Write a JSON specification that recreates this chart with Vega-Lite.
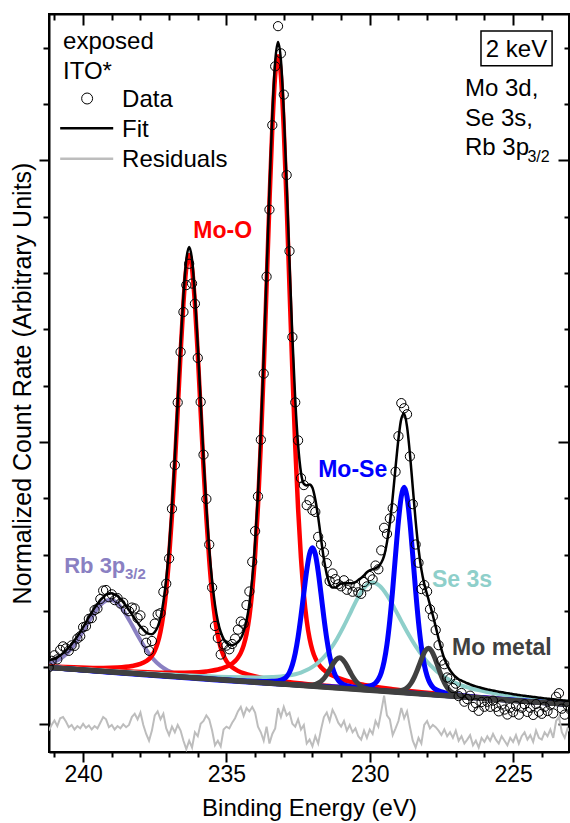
{
"$schema": "https://vega.github.io/schema/vega-lite/v6.json",
"width": 520, "height": 738,
"autosize": "none",
"padding": {"left": 49, "top": 14, "right": 1, "bottom": 71},
"background": "white",
"data": {"values": [{"k": 1}]},
"config": {
 "font": "Liberation Sans",
 "view": {"stroke": "black", "strokeWidth": 2},
 "axis": {"grid": false, "domainColor": "black", "domainWidth": 2, "tickColor": "black", "tickWidth": 2, "labelColor": "black", "titleColor": "black", "labelFont": "Liberation Sans", "titleFont": "Liberation Sans", "titleFontWeight": "normal"}
},
"datasets": {
"pts": [
{"e":241.2,"d":1.002,"f":1.122,"r":-0.12},{"e":241.1,"d":1.119,"f":1.139,"r":-0.02},{"e":241.0,"d":1.217,"f":1.157,"r":0.06},{"e":240.9,"d":1.144,"f":1.184,"r":-0.04},{"e":240.8,"d":1.312,"f":1.212,"r":0.10},{"e":240.7,"d":1.375,"f":1.255,"r":0.12},{"e":240.6,"d":1.339,"f":1.299,"r":0.04},{"e":240.5,"d":1.296,"f":1.356,"r":-0.06},{"e":240.4,"d":1.393,"f":1.413,"r":-0.02},{"e":240.3,"d":1.383,"f":1.483,"r":-0.10},
{"e":240.2,"d":1.513,"f":1.553,"r":-0.04},{"e":240.1,"d":1.554,"f":1.634,"r":-0.08},{"e":240.0,"d":1.715,"f":1.715,"r":0.0},{"e":239.9,"d":1.734,"f":1.804,"r":-0.07},{"e":239.8,"d":1.863,"f":1.893,"r":-0.03},{"e":239.7,"d":1.876,"f":1.976,"r":-0.10},{"e":239.6,"d":2.019,"f":2.059,"r":-0.04},{"e":239.5,"d":2.047,"f":2.127,"r":-0.08},{"e":239.4,"d":2.215,"f":2.195,"r":0.02},{"e":239.3,"d":2.365,"f":2.245,"r":0.12},
{"e":239.2,"d":2.375,"f":2.295,"r":0.08},{"e":239.1,"d":2.247,"f":2.307,"r":-0.06},{"e":239.0,"d":2.299,"f":2.319,"r":-0.02},{"e":238.9,"d":2.196,"f":2.296,"r":-0.10},{"e":238.8,"d":2.232,"f":2.272,"r":-0.04},{"e":238.7,"d":2.136,"f":2.216,"r":-0.08},{"e":238.6,"d":2.150,"f":2.160,"r":-0.01},{"e":238.5,"d":2.030,"f":2.090,"r":-0.06},{"e":238.4,"d":1.999,"f":2.019,"r":-0.02},{"e":238.3,"d":2.064,"f":1.944,"r":0.12},
{"e":238.2,"d":2.048,"f":1.868,"r":0.18},{"e":238.1,"d":1.877,"f":1.797,"r":0.08},{"e":238.0,"d":1.925,"f":1.725,"r":0.20},{"e":237.9,"d":1.652,"f":1.672,"r":-0.02},{"e":237.8,"d":1.439,"f":1.619,"r":-0.18},{"e":237.7,"d":1.297,"f":1.597,"r":-0.30},{"e":237.6,"d":1.471,"f":1.591,"r":-0.12},{"e":237.5,"d":1.779,"f":1.629,"r":0.15},{"e":237.4,"d":1.941,"f":1.721,"r":0.22},{"e":237.3,"d":1.964,"f":1.884,"r":0.08},
{"e":237.2,"d":2.343,"f":2.163,"r":0.18},{"e":237.1,"d":2.487,"f":2.567,"r":-0.08},{"e":237.0,"d":2.935,"f":3.135,"r":-0.20},{"e":236.9,"d":3.817,"f":3.867,"r":-0.05},{"e":236.8,"d":4.593,"f":4.743,"r":-0.15},{"e":236.7,"d":5.704,"f":5.724,"r":-0.02},{"e":236.6,"d":6.601,"f":6.721,"r":-0.12},{"e":236.5,"d":7.31,"f":7.61,"r":-0.30},{"e":236.4,"d":7.788,"f":8.238,"r":-0.45},{"e":236.3,"d":8.166,"f":8.466,"r":-0.30},
{"e":236.2,"d":7.815,"f":8.235,"r":-0.42},{"e":236.1,"d":7.457,"f":7.607,"r":-0.15},{"e":236.0,"d":6.495,"f":6.715,"r":-0.22},{"e":235.9,"d":5.714,"f":5.714,"r":0.0},{"e":235.8,"d":4.778,"f":4.728,"r":0.05},{"e":235.7,"d":3.991,"f":3.841,"r":0.15},{"e":235.6,"d":3.182,"f":3.102,"r":0.08},{"e":235.5,"d":2.42,"f":2.54,"r":-0.12},{"e":235.4,"d":1.737,"f":2.117,"r":-0.38},{"e":235.3,"d":1.523,"f":1.823,"r":-0.30},
{"e":235.2,"d":1.23,"f":1.63,"r":-0.40},{"e":235.1,"d":1.409,"f":1.509,"r":-0.10},{"e":235.0,"d":1.388,"f":1.438,"r":-0.05},{"e":234.9,"d":1.323,"f":1.403,"r":-0.08},{"e":234.8,"d":1.417,"f":1.397,"r":0.02},{"e":234.7,"d":1.513,"f":1.413,"r":0.10},{"e":234.6,"d":1.672,"f":1.452,"r":0.22},{"e":234.5,"d":1.815,"f":1.515,"r":0.30},{"e":234.4,"d":1.777,"f":1.637,"r":0.14},{"e":234.3,"d":2.108,"f":1.828,"r":0.28},
{"e":234.2,"d":2.349,"f":2.129,"r":0.22},{"e":234.1,"d":2.876,"f":2.576,"r":0.30},{"e":234.0,"d":3.421,"f":3.221,"r":0.20},{"e":233.9,"d":4.037,"f":4.087,"r":-0.05},{"e":233.8,"d":5.043,"f":5.193,"r":-0.15},{"e":233.7,"d":6.216,"f":6.516,"r":-0.30},{"e":233.6,"d":7.938,"f":7.988,"r":-0.05},{"e":233.5,"d":9.128,"f":9.478,"r":-0.35},{"e":233.4,"d":10.627,"f":10.807,"r":-0.18},{"e":233.3,"d":11.671,"f":11.751,"r":-0.08},
{"e":233.2,"d":12.384,"f":12.104,"r":0.28},{"e":233.1,"d":11.901,"f":11.781,"r":0.12},{"e":233.0,"d":11.169,"f":10.869,"r":0.30},{"e":232.9,"d":9.741,"f":9.591,"r":0.15},{"e":232.8,"d":8.391,"f":8.191,"r":0.20},{"e":232.7,"d":6.864,"f":6.864,"r":0.0},{"e":232.6,"d":5.706,"f":5.756,"r":-0.05},{"e":232.5,"d":5.031,"f":4.951,"r":0.08},{"e":232.4,"d":4.361,"f":4.461,"r":-0.10},{"e":232.3,"d":4.238,"f":4.258,"r":-0.02},
{"e":232.2,"d":3.881,"f":4.231,"r":-0.35},{"e":232.1,"d":3.97,"f":4.25,"r":-0.28},{"e":232.0,"d":3.791,"f":4.191,"r":-0.40},{"e":231.9,"d":3.761,"f":3.981,"r":-0.22},{"e":231.8,"d":3.319,"f":3.669,"r":-0.35},{"e":231.7,"d":3.184,"f":3.284,"r":-0.10},{"e":231.6,"d":3.043,"f":2.923,"r":0.12},{"e":231.5,"d":2.852,"f":2.652,"r":0.20},{"e":231.4,"d":2.532,"f":2.482,"r":0.05},{"e":231.3,"d":2.669,"f":2.419,"r":0.25},
{"e":231.2,"d":2.569,"f":2.419,"r":0.15},{"e":231.1,"d":2.477,"f":2.457,"r":0.02},{"e":231.0,"d":2.441,"f":2.491,"r":-0.05},{"e":230.9,"d":2.548,"f":2.498,"r":0.05},{"e":230.8,"d":2.38,"f":2.5,"r":-0.12},{"e":230.7,"d":2.474,"f":2.494,"r":-0.02},{"e":230.6,"d":2.345,"f":2.495,"r":-0.15},{"e":230.5,"d":2.435,"f":2.515,"r":-0.08},{"e":230.4,"d":2.334,"f":2.554,"r":-0.22},{"e":230.3,"d":2.308,"f":2.588,"r":-0.28},
{"e":230.2,"d":2.517,"f":2.637,"r":-0.12},{"e":230.1,"d":2.44,"f":2.69,"r":-0.25},{"e":230.0,"d":2.623,"f":2.723,"r":-0.10},{"e":229.9,"d":2.564,"f":2.744,"r":-0.18},{"e":229.8,"d":2.81,"f":2.76,"r":0.05},{"e":229.7,"d":2.743,"f":2.793,"r":-0.05},{"e":229.6,"d":3.079,"f":2.859,"r":0.22},{"e":229.5,"d":3.48,"f":2.98,"r":0.50},{"e":229.4,"d":3.371,"f":3.221,"r":0.15},{"e":229.3,"d":3.645,"f":3.565,"r":0.08},
{"e":229.2,"d":3.826,"f":4.026,"r":-0.20},{"e":229.1,"d":4.475,"f":4.555,"r":-0.08},{"e":229.0,"d":5.106,"f":5.056,"r":0.05},{"e":228.9,"d":5.693,"f":5.413,"r":0.28},{"e":228.8,"d":5.602,"f":5.502,"r":0.10},{"e":228.7,"d":5.495,"f":5.275,"r":0.22},{"e":228.6,"d":4.747,"f":4.797,"r":-0.05},{"e":228.5,"d":3.899,"f":4.199,"r":-0.30},{"e":228.4,"d":3.183,"f":3.603,"r":-0.42},{"e":228.3,"d":2.859,"f":3.109,"r":-0.25},
{"e":228.2,"d":2.392,"f":2.742,"r":-0.35},{"e":228.1,"d":2.464,"f":2.484,"r":-0.02},{"e":228.0,"d":2.349,"f":2.299,"r":0.05},{"e":227.9,"d":2.034,"f":2.114,"r":-0.08},{"e":227.8,"d":1.907,"f":1.927,"r":-0.02},{"e":227.7,"d":1.665,"f":1.725,"r":-0.06},{"e":227.6,"d":1.396,"f":1.516,"r":-0.12},{"e":227.5,"d":1.123,"f":1.323,"r":-0.20},{"e":227.4,"d":1.058,"f":1.158,"r":-0.10},{"e":227.3,"d":0.823,"f":1.043,"r":-0.22},
{"e":227.2,"d":0.802,"f":0.952,"r":-0.15},{"e":227.1,"d":0.635,"f":0.885,"r":-0.25},{"e":227.0,"d":0.713,"f":0.833,"r":-0.12},{"e":226.9,"d":0.492,"f":0.792,"r":-0.30},{"e":226.8,"d":0.547,"f":0.767,"r":-0.22},{"e":226.7,"d":0.393,"f":0.743,"r":-0.35},{"e":226.6,"d":0.44,"f":0.72,"r":-0.28},{"e":226.5,"d":0.5,"f":0.7,"r":-0.20},{"e":226.4,"d":0.3,"f":0.68,"r":-0.38},{"e":226.3,"d":0.365,"f":0.665,"r":-0.30},
{"e":226.2,"d":0.231,"f":0.651,"r":-0.42},{"e":226.1,"d":0.387,"f":0.637,"r":-0.25},{"e":226.0,"d":0.303,"f":0.623,"r":-0.32},{"e":225.9,"d":0.392,"f":0.612,"r":-0.22},{"e":225.8,"d":0.302,"f":0.602,"r":-0.30},{"e":225.7,"d":0.412,"f":0.592,"r":-0.18},{"e":225.6,"d":0.301,"f":0.581,"r":-0.28},{"e":225.5,"d":0.221,"f":0.571,"r":-0.35},{"e":225.4,"d":0.342,"f":0.562,"r":-0.22},{"e":225.3,"d":0.253,"f":0.553,"r":-0.30},
{"e":225.2,"d":0.165,"f":0.545,"r":-0.38},{"e":225.1,"d":0.286,"f":0.536,"r":-0.25},{"e":225.0,"d":0.207,"f":0.527,"r":-0.32},{"e":224.9,"d":0.32,"f":0.52,"r":-0.20},{"e":224.8,"d":0.163,"f":0.513,"r":-0.35},{"e":224.7,"d":0.285,"f":0.505,"r":-0.22},{"e":224.6,"d":0.348,"f":0.498,"r":-0.15},{"e":224.5,"d":0.211,"f":0.491,"r":-0.28},{"e":224.4,"d":0.284,"f":0.484,"r":-0.20},{"e":224.3,"d":0.158,"f":0.478,"r":-0.32},
{"e":224.2,"d":0.351,"f":0.471,"r":-0.12},{"e":224.1,"d":0.215,"f":0.465,"r":-0.25},{"e":224.0,"d":0.178,"f":0.458,"r":-0.28},{"e":223.9,"d":0.302,"f":0.452,"r":-0.15},{"e":223.8,"d":0.227,"f":0.447,"r":-0.22},{"e":223.7,"d":0.341,"f":0.441,"r":-0.10},{"e":223.6,"d":0.186,"f":0.436,"r":-0.25},{"e":223.5,"d":0.48,"f":0.43,"r":0.05},{"e":223.4,"d":0.544,"f":0.424,"r":0.12},{"e":223.3,"d":0.269,"f":0.419,"r":-0.15},
{"e":223.2,"d":0.163,"f":0.413,"r":-0.25},{"e":223.1,"d":0.328,"f":0.408,"r":-0.08},{"e":223.0,"d":0.252,"f":0.402,"r":-0.15}
],
"comp": [
{"s":"rb","e":241.2,"v":1.07},{"s":"rb","e":241.05,"v":1.092},{"s":"rb","e":240.8,"v":1.154},{"s":"rb","e":240.55,"v":1.258},{"s":"rb","e":240.3,"v":1.407},{"s":"rb","e":240.05,"v":1.598},{"s":"rb","e":239.8,"v":1.811},{"s":"rb","e":239.55,"v":2.011},{"s":"rb","e":239.3,"v":2.155},{"s":"rb","e":239.05,"v":2.202},{"s":"rb","e":238.8,"v":2.137},{"s":"rb","e":238.55,"v":1.975},{"s":"rb","e":238.3,"v":1.757},{"s":"rb","e":238.05,"v":1.526},{"s":"rb","e":237.8,"v":1.317},{"s":"rb","e":237.55,"v":1.149},{"s":"rb","e":237.3,"v":1.028},{"s":"rb","e":237.05,"v":0.947},{"s":"rb","e":236.8,"v":0.896},{"s":"rb","e":236.55,"v":0.864},{"s":"rb","e":236.05,"v":0.828},{"s":"rb","e":235.05,"v":0.784},{"s":"rb","e":233.05,"v":0.708},{"s":"rb","e":229.05,"v":0.561},{"s":"rb","e":223.0,"v":0.341},
{"s":"moo1","e":241.2,"v":1.023},{"s":"moo1","e":239.3,"v":0.992},{"s":"moo1","e":238.8,"v":1.0},{"s":"moo1","e":238.3,"v":1.027},{"s":"moo1","e":238.0,"v":1.063},{"s":"moo1","e":237.8,"v":1.113},{"s":"moo1","e":237.7,"v":1.151},{"s":"moo1","e":237.6,"v":1.208},{"s":"moo1","e":237.5,"v":1.297},{"s":"moo1","e":237.4,"v":1.431},{"s":"moo1","e":237.3,"v":1.638},{"s":"moo1","e":237.2,"v":1.941},{"s":"moo1","e":237.1,"v":2.371},{"s":"moo1","e":237.0,"v":2.958},{"s":"moo1","e":236.9,"v":3.701},{"s":"moo1","e":236.8,"v":4.591},{"s":"moo1","e":236.7,"v":5.577},{"s":"moo1","e":236.6,"v":6.578},{"s":"moo1","e":236.5,"v":7.47},{"s":"moo1","e":236.4,"v":8.096},{"s":"moo1","e":236.3,"v":8.322},{"s":"moo1","e":236.2,"v":8.089},{"s":"moo1","e":236.1,"v":7.455},{"s":"moo1","e":236.0,"v":6.556},{"s":"moo1","e":235.9,"v":5.548},{"s":"moo1","e":235.8,"v":4.554},{"s":"moo1","e":235.7,"v":3.658},{"s":"moo1","e":235.6,"v":2.907},{"s":"moo1","e":235.5,"v":2.313},{"s":"moo1","e":235.4,"v":1.876},{"s":"moo1","e":235.3,"v":1.565},{"s":"moo1","e":235.2,"v":1.351},{"s":"moo1","e":235.1,"v":1.21},{"s":"moo1","e":235.0,"v":1.113},{"s":"moo1","e":234.9,"v":1.05},{"s":"moo1","e":234.8,"v":1.004},{"s":"moo1","e":234.6,"v":0.94},{"s":"moo1","e":234.3,"v":0.882},{"s":"moo1","e":233.8,"v":0.819},{"s":"moo1","e":233.3,"v":0.775},{"s":"moo1","e":232.3,"v":0.712},{"s":"moo1","e":231.3,"v":0.664},{"s":"moo1","e":229.3,"v":0.579},{"s":"moo1","e":227.3,"v":0.503},{"s":"moo1","e":223.0,"v":0.343},
{"s":"moo2","e":241.2,"v":1.014},{"s":"moo2","e":239.2,"v":0.951},{"s":"moo2","e":238.2,"v":0.924},{"s":"moo2","e":237.2,"v":0.906},{"s":"moo2","e":236.2,"v":0.909},{"s":"moo2","e":235.7,"v":0.929},{"s":"moo2","e":235.2,"v":0.978},{"s":"moo2","e":234.9,"v":1.038},{"s":"moo2","e":234.7,"v":1.114},{"s":"moo2","e":234.6,"v":1.173},{"s":"moo2","e":234.5,"v":1.259},{"s":"moo2","e":234.4,"v":1.392},{"s":"moo2","e":234.3,"v":1.594},{"s":"moo2","e":234.2,"v":1.902},{"s":"moo2","e":234.1,"v":2.356},{"s":"moo2","e":234.0,"v":3.0},{"s":"moo2","e":233.9,"v":3.868},{"s":"moo2","e":233.8,"v":4.974},{"s":"moo2","e":233.7,"v":6.297},{"s":"moo2","e":233.6,"v":7.764},{"s":"moo2","e":233.5,"v":9.252},{"s":"moo2","e":233.4,"v":10.575},{"s":"moo2","e":233.3,"v":11.51},{"s":"moo2","e":233.2,"v":11.848},{"s":"moo2","e":233.1,"v":11.502},{"s":"moo2","e":233.0,"v":10.561},{"s":"moo2","e":232.9,"v":9.23},{"s":"moo2","e":232.8,"v":7.735},{"s":"moo2","e":232.7,"v":6.261},{"s":"moo2","e":232.6,"v":4.93},{"s":"moo2","e":232.5,"v":3.818},{"s":"moo2","e":232.4,"v":2.942},{"s":"moo2","e":232.3,"v":2.29},{"s":"moo2","e":232.2,"v":1.83},{"s":"moo2","e":232.1,"v":1.514},{"s":"moo2","e":232.0,"v":1.305},{"s":"moo2","e":231.9,"v":1.165},{"s":"moo2","e":231.8,"v":1.071},{"s":"moo2","e":231.7,"v":1.005},{"s":"moo2","e":231.5,"v":0.914},{"s":"moo2","e":231.2,"v":0.833},{"s":"moo2","e":230.7,"v":0.748},{"s":"moo2","e":230.2,"v":0.691},{"s":"moo2","e":229.2,"v":0.616},{"s":"moo2","e":228.2,"v":0.562},{"s":"moo2","e":227.2,"v":0.515},{"s":"moo2","e":225.2,"v":0.434},{"s":"moo2","e":223.0,"v":0.349},
{"s":"se","e":241.2,"v":1.012},{"s":"se","e":237.9,"v":0.903},{"s":"se","e":235.9,"v":0.849},{"s":"se","e":234.9,"v":0.83},{"s":"se","e":233.9,"v":0.823},{"s":"se","e":233.4,"v":0.831},{"s":"se","e":232.9,"v":0.854},{"s":"se","e":232.4,"v":0.911},{"s":"se","e":231.9,"v":1.044},{"s":"se","e":231.65,"v":1.156},{"s":"se","e":231.4,"v":1.308},{"s":"se","e":231.15,"v":1.503},{"s":"se","e":230.9,"v":1.738},{"s":"se","e":230.65,"v":1.998},{"s":"se","e":230.4,"v":2.251},{"s":"se","e":230.15,"v":2.442},{"s":"se","e":229.9,"v":2.51},{"s":"se","e":229.65,"v":2.445},{"s":"se","e":229.4,"v":2.284},{"s":"se","e":229.15,"v":2.063},{"s":"se","e":228.9,"v":1.823},{"s":"se","e":228.65,"v":1.589},{"s":"se","e":228.4,"v":1.378},{"s":"se","e":228.15,"v":1.197},{"s":"se","e":227.9,"v":1.047},{"s":"se","e":227.4,"v":0.831},{"s":"se","e":226.9,"v":0.7},{"s":"se","e":226.4,"v":0.62},{"s":"se","e":225.9,"v":0.565},{"s":"se","e":224.9,"v":0.488},{"s":"se","e":223.9,"v":0.429},{"s":"se","e":223.0,"v":0.383},
{"s":"mose1","e":241.2,"v":1.002},{"s":"mose1","e":236.0,"v":0.816},{"s":"mose1","e":234.0,"v":0.758},{"s":"mose1","e":233.6,"v":0.753},{"s":"mose1","e":233.4,"v":0.754},{"s":"mose1","e":233.2,"v":0.763},{"s":"mose1","e":233.1,"v":0.774},{"s":"mose1","e":233.0,"v":0.797},{"s":"mose1","e":232.9,"v":0.839},{"s":"mose1","e":232.8,"v":0.916},{"s":"mose1","e":232.7,"v":1.049},{"s":"mose1","e":232.6,"v":1.253},{"s":"mose1","e":232.5,"v":1.543},{"s":"mose1","e":232.4,"v":1.911},{"s":"mose1","e":232.3,"v":2.324},{"s":"mose1","e":232.2,"v":2.722},{"s":"mose1","e":232.1,"v":3.018},{"s":"mose1","e":232.0,"v":3.126},{"s":"mose1","e":231.9,"v":3.011},{"s":"mose1","e":231.8,"v":2.707},{"s":"mose1","e":231.7,"v":2.302},{"s":"mose1","e":231.6,"v":1.882},{"s":"mose1","e":231.5,"v":1.506},{"s":"mose1","e":231.4,"v":1.209},{"s":"mose1","e":231.3,"v":0.998},{"s":"mose1","e":231.2,"v":0.858},{"s":"mose1","e":231.1,"v":0.774},{"s":"mose1","e":231.0,"v":0.724},{"s":"mose1","e":230.9,"v":0.694},{"s":"mose1","e":230.8,"v":0.676},{"s":"mose1","e":230.6,"v":0.652},{"s":"mose1","e":230.4,"v":0.637},{"s":"mose1","e":230.0,"v":0.613},{"s":"mose1","e":229.6,"v":0.592},{"s":"mose1","e":228.8,"v":0.558},{"s":"mose1","e":228.0,"v":0.526},{"s":"mose1","e":223.0,"v":0.342},
{"s":"mose2","e":241.2,"v":1.001},{"s":"mose2","e":232.0,"v":0.678},{"s":"mose2","e":230.8,"v":0.651},{"s":"mose2","e":230.4,"v":0.651},{"s":"mose2","e":230.2,"v":0.656},{"s":"mose2","e":230.0,"v":0.673},{"s":"mose2","e":229.9,"v":0.691},{"s":"mose2","e":229.8,"v":0.725},{"s":"mose2","e":229.7,"v":0.79},{"s":"mose2","e":229.6,"v":0.908},{"s":"mose2","e":229.5,"v":1.105},{"s":"mose2","e":229.4,"v":1.41},{"s":"mose2","e":229.3,"v":1.841},{"s":"mose2","e":229.2,"v":2.39},{"s":"mose2","e":229.1,"v":3.006},{"s":"mose2","e":229.0,"v":3.597},{"s":"mose2","e":228.9,"v":4.038},{"s":"mose2","e":228.8,"v":4.2},{"s":"mose2","e":228.7,"v":4.031},{"s":"mose2","e":228.6,"v":3.583},{"s":"mose2","e":228.5,"v":2.984},{"s":"mose2","e":228.4,"v":2.361},{"s":"mose2","e":228.3,"v":1.805},{"s":"mose2","e":228.2,"v":1.368},{"s":"mose2","e":228.1,"v":1.054},{"s":"mose2","e":228.0,"v":0.85},{"s":"mose2","e":227.9,"v":0.725},{"s":"mose2","e":227.8,"v":0.653},{"s":"mose2","e":227.7,"v":0.611},{"s":"mose2","e":227.6,"v":0.586},{"s":"mose2","e":227.4,"v":0.555},{"s":"mose2","e":227.2,"v":0.535},{"s":"mose2","e":226.8,"v":0.505},{"s":"mose2","e":226.4,"v":0.483},{"s":"mose2","e":225.6,"v":0.446},{"s":"mose2","e":224.8,"v":0.413},{"s":"mose2","e":223.0,"v":0.344},
{"s":"mom1","e":241.2,"v":1.001},{"s":"mom1","e":235.05,"v":0.779},{"s":"mom1","e":233.05,"v":0.708},{"s":"mom1","e":232.65,"v":0.696},{"s":"mom1","e":232.25,"v":0.687},{"s":"mom1","e":232.05,"v":0.689},{"s":"mom1","e":231.95,"v":0.695},{"s":"mom1","e":231.85,"v":0.71},{"s":"mom1","e":231.75,"v":0.735},{"s":"mom1","e":231.65,"v":0.778},{"s":"mom1","e":231.55,"v":0.838},{"s":"mom1","e":231.45,"v":0.916},{"s":"mom1","e":231.35,"v":1.005},{"s":"mom1","e":231.25,"v":1.089},{"s":"mom1","e":231.15,"v":1.151},{"s":"mom1","e":231.05,"v":1.172},{"s":"mom1","e":230.95,"v":1.143},{"s":"mom1","e":230.85,"v":1.075},{"s":"mom1","e":230.75,"v":0.983},{"s":"mom1","e":230.65,"v":0.887},{"s":"mom1","e":230.55,"v":0.802},{"s":"mom1","e":230.45,"v":0.734},{"s":"mom1","e":230.35,"v":0.685},{"s":"mom1","e":230.25,"v":0.652},{"s":"mom1","e":230.15,"v":0.63},{"s":"mom1","e":230.05,"v":0.617},{"s":"mom1","e":229.85,"v":0.601},{"s":"mom1","e":229.45,"v":0.58},{"s":"mom1","e":229.05,"v":0.564},{"s":"mom1","e":227.05,"v":0.489},{"s":"mom1","e":223.0,"v":0.341},
{"s":"mom2","e":241.2,"v":1.001},{"s":"mom2","e":231.95,"v":0.667},{"s":"mom2","e":229.95,"v":0.598},{"s":"mom2","e":229.55,"v":0.588},{"s":"mom2","e":229.15,"v":0.581},{"s":"mom2","e":228.95,"v":0.587},{"s":"mom2","e":228.85,"v":0.599},{"s":"mom2","e":228.75,"v":0.623},{"s":"mom2","e":228.65,"v":0.664},{"s":"mom2","e":228.55,"v":0.729},{"s":"mom2","e":228.45,"v":0.824},{"s":"mom2","e":228.35,"v":0.944},{"s":"mom2","e":228.25,"v":1.079},{"s":"mom2","e":228.15,"v":1.21},{"s":"mom2","e":228.05,"v":1.306},{"s":"mom2","e":227.95,"v":1.34},{"s":"mom2","e":227.85,"v":1.299},{"s":"mom2","e":227.75,"v":1.195},{"s":"mom2","e":227.65,"v":1.058},{"s":"mom2","e":227.55,"v":0.915},{"s":"mom2","e":227.45,"v":0.787},{"s":"mom2","e":227.35,"v":0.686},{"s":"mom2","e":227.25,"v":0.613},{"s":"mom2","e":227.15,"v":0.565},{"s":"mom2","e":227.05,"v":0.534},{"s":"mom2","e":226.95,"v":0.514},{"s":"mom2","e":226.75,"v":0.494},{"s":"mom2","e":226.35,"v":0.471},{"s":"mom2","e":225.95,"v":0.453},{"s":"mom2","e":223.95,"v":0.377},{"s":"mom2","e":223.0,"v":0.341},
{"s":"bg","e":241.2,"v":1.0},{"s":"bg","e":223.0,"v":0.34}
]
},
"layer": [
{"layer": [
 {"data": {"name": "pts"},
  "mark": {"type": "line", "color": "#BDBDBD", "strokeWidth": 2, "clip": true},
  "encoding": {
   "x": {"field": "e", "type": "quantitative", "scale": {"domain": [223.05, 241.19], "reverse": true, "nice": false, "zero": false}, "axis": null},
   "y": {"field": "r", "type": "quantitative", "scale": {"domain": [-0.5, 12.6], "nice": false, "zero": false}, "axis": null}
  }},
 {"data": {"name": "comp"}, "transform": [{"filter": "datum.s === 'rb'"}],
  "mark": {"type": "line", "color": "#8A80C2", "strokeWidth": 4, "interpolate": "monotone", "clip": true},
  "encoding": {"x": {"field": "e", "type": "quantitative", "axis": null}, "y": {"field": "v", "type": "quantitative", "axis": null}}},
 {"data": {"name": "comp"}, "transform": [{"filter": "datum.s === 'moo1' || datum.s === 'moo2'"}],
  "mark": {"type": "line", "color": "#FF0000", "strokeWidth": 4.5, "interpolate": "monotone", "clip": true},
  "encoding": {"x": {"field": "e", "type": "quantitative", "axis": null}, "y": {"field": "v", "type": "quantitative", "axis": null}, "detail": {"field": "s"}}},
 {"data": {"name": "comp"}, "transform": [{"filter": "datum.s === 'se'"}],
  "mark": {"type": "line", "color": "#8ECFCA", "strokeWidth": 4, "interpolate": "monotone", "clip": true},
  "encoding": {"x": {"field": "e", "type": "quantitative", "axis": null}, "y": {"field": "v", "type": "quantitative", "axis": null}}},
 {"data": {"name": "comp"}, "transform": [{"filter": "datum.s === 'mose1' || datum.s === 'mose2'"}],
  "mark": {"type": "line", "color": "#0000FF", "strokeWidth": 5, "interpolate": "monotone", "clip": true},
  "encoding": {"x": {"field": "e", "type": "quantitative", "axis": null}, "y": {"field": "v", "type": "quantitative", "axis": null}, "detail": {"field": "s"}}},
 {"data": {"name": "comp"}, "transform": [{"filter": "datum.s === 'mom1' || datum.s === 'mom2'"}],
  "mark": {"type": "line", "color": "#404040", "strokeWidth": 5, "interpolate": "monotone", "clip": true},
  "encoding": {"x": {"field": "e", "type": "quantitative", "axis": null}, "y": {"field": "v", "type": "quantitative", "axis": null}, "detail": {"field": "s"}}},
 {"data": {"name": "comp"}, "transform": [{"filter": "datum.s === 'bg'"}],
  "mark": {"type": "line", "color": "#404040", "strokeWidth": 5, "clip": true},
  "encoding": {"x": {"field": "e", "type": "quantitative", "axis": null}, "y": {"field": "v", "type": "quantitative", "axis": null}}},
 {"data": {"name": "pts"},
  "mark": {"type": "line", "color": "black", "strokeWidth": 2.5, "interpolate": "monotone", "clip": true},
  "encoding": {"x": {"field": "e", "type": "quantitative", "axis": null}, "y": {"field": "f", "type": "quantitative", "axis": null}}},
 {"data": {"name": "pts"},
  "mark": {"type": "point", "shape": "circle", "filled": false, "color": "black", "strokeWidth": 1, "size": 85, "opacity": 1, "clip": true},
  "encoding": {"x": {"field": "e", "type": "quantitative", "axis": null}, "y": {"field": "d", "type": "quantitative", "axis": null}}},
 {"mark": {"type": "text", "text": "exposed", "align": "left", "baseline": "alphabetic", "fontSize": 24, "color": "black"},
  "encoding": {"x": {"datum": 240.70, "type": "quantitative", "axis": null}, "y": {"datum": 11.98, "type": "quantitative", "axis": null}}},
 {"mark": {"type": "text", "text": "ITO*", "align": "left", "baseline": "alphabetic", "fontSize": 24, "color": "black"},
  "encoding": {"x": {"datum": 240.70, "type": "quantitative", "axis": null}, "y": {"datum": 11.45, "type": "quantitative", "axis": null}}},
 {"mark": {"type": "point", "shape": "circle", "filled": false, "color": "black", "strokeWidth": 1, "size": 120, "opacity": 1},
  "encoding": {"x": {"datum": 239.86, "type": "quantitative", "axis": null}, "y": {"datum": 11.1, "type": "quantitative", "axis": null}}},
 {"mark": {"type": "text", "text": "Data", "align": "left", "baseline": "alphabetic", "fontSize": 24, "color": "black"},
  "encoding": {"x": {"datum": 238.64, "type": "quantitative", "axis": null}, "y": {"datum": 10.95, "type": "quantitative", "axis": null}}},
 {"mark": {"type": "rule", "color": "black", "strokeWidth": 2.5},
  "encoding": {"x": {"datum": 240.80, "type": "quantitative", "axis": null}, "x2": {"datum": 238.95}, "y": {"datum": 10.57, "type": "quantitative", "axis": null}}},
 {"mark": {"type": "text", "text": "Fit", "align": "left", "baseline": "alphabetic", "fontSize": 24, "color": "black"},
  "encoding": {"x": {"datum": 238.64, "type": "quantitative", "axis": null}, "y": {"datum": 10.42, "type": "quantitative", "axis": null}}},
 {"mark": {"type": "rule", "color": "#BDBDBD", "strokeWidth": 2.5},
  "encoding": {"x": {"datum": 240.80, "type": "quantitative", "axis": null}, "x2": {"datum": 238.95}, "y": {"datum": 10.03, "type": "quantitative", "axis": null}}},
 {"mark": {"type": "text", "text": "Residuals", "align": "left", "baseline": "alphabetic", "fontSize": 24, "color": "black"},
  "encoding": {"x": {"datum": 238.64, "type": "quantitative", "axis": null}, "y": {"datum": 9.89, "type": "quantitative", "axis": null}}},
 {"mark": {"type": "rect", "fill": "transparent", "stroke": "black", "strokeWidth": 1.5},
  "encoding": {"x": {"datum": 226.12, "type": "quantitative", "axis": null}, "x2": {"datum": 223.64}, "y": {"datum": 12.3, "type": "quantitative", "axis": null}, "y2": {"datum": 11.68}}},
 {"mark": {"type": "text", "text": "2 keV", "align": "center", "baseline": "alphabetic", "fontSize": 24, "color": "black"},
  "encoding": {"x": {"datum": 224.88, "type": "quantitative", "axis": null}, "y": {"datum": 11.83, "type": "quantitative", "axis": null}}},
 {"mark": {"type": "text", "text": "Mo 3d,", "align": "left", "baseline": "alphabetic", "fontSize": 24, "color": "black"},
  "encoding": {"x": {"datum": 226.68, "type": "quantitative", "axis": null}, "y": {"datum": 11.15, "type": "quantitative", "axis": null}}},
 {"mark": {"type": "text", "text": "Se 3s,", "align": "left", "baseline": "alphabetic", "fontSize": 24, "color": "black"},
  "encoding": {"x": {"datum": 226.68, "type": "quantitative", "axis": null}, "y": {"datum": 10.62, "type": "quantitative", "axis": null}}},
 {"mark": {"type": "text", "text": "Rb 3p", "align": "left", "baseline": "alphabetic", "fontSize": 24, "color": "black"},
  "encoding": {"x": {"datum": 226.68, "type": "quantitative", "axis": null}, "y": {"datum": 10.1, "type": "quantitative", "axis": null}}},
 {"mark": {"type": "text", "text": "3/2", "align": "left", "baseline": "alphabetic", "fontSize": 16, "color": "black"},
  "encoding": {"x": {"datum": 224.5, "type": "quantitative", "axis": null}, "y": {"datum": 9.98, "type": "quantitative", "axis": null}}},
 {"mark": {"type": "text", "text": "Mo-O", "align": "center", "baseline": "alphabetic", "fontSize": 23, "fontWeight": "bold", "color": "#FF0000"},
  "encoding": {"x": {"datum": 235.13, "type": "quantitative", "axis": null}, "y": {"datum": 8.63, "type": "quantitative", "axis": null}}},
 {"mark": {"type": "text", "text": "Mo-Se", "align": "left", "baseline": "alphabetic", "fontSize": 23, "fontWeight": "bold", "color": "#0000FF"},
  "encoding": {"x": {"datum": 231.80, "type": "quantitative", "axis": null}, "y": {"datum": 4.385, "type": "quantitative", "axis": null}}},
 {"mark": {"type": "text", "text": "Se 3s", "align": "left", "baseline": "alphabetic", "fontSize": 23, "fontWeight": "bold", "color": "#8ECFCA"},
  "encoding": {"x": {"datum": 227.83, "type": "quantitative", "axis": null}, "y": {"datum": 2.43, "type": "quantitative", "axis": null}}},
 {"mark": {"type": "text", "text": "Mo metal", "align": "left", "baseline": "alphabetic", "fontSize": 23, "fontWeight": "bold", "color": "#404040"},
  "encoding": {"x": {"datum": 227.13, "type": "quantitative", "axis": null}, "y": {"datum": 1.225, "type": "quantitative", "axis": null}}},
 {"mark": {"type": "text", "text": "Rb 3p", "align": "left", "baseline": "alphabetic", "fontSize": 22, "fontWeight": "bold", "color": "#8A80C2"},
  "encoding": {"x": {"datum": 240.66, "type": "quantitative", "axis": null}, "y": {"datum": 2.68, "type": "quantitative", "axis": null}}},
 {"mark": {"type": "text", "text": "3/2", "align": "left", "baseline": "alphabetic", "fontSize": 15, "fontWeight": "bold", "color": "#8A80C2"},
  "encoding": {"x": {"datum": 238.54, "type": "quantitative", "axis": null}, "y": {"datum": 2.57, "type": "quantitative", "axis": null}}}
]},
{"data": {"name": "pts"},
 "mark": {"type": "point", "opacity": 0},
 "encoding": {
  "x": {"field": "e", "type": "quantitative", "scale": {"domain": [223.05, 241.19], "reverse": true, "nice": false, "zero": false},
        "axis": {"orient": "bottom", "values": [224,225,226,227,228,229,230,231,232,233,234,235,236,237,238,239,240,241], "labelExpr": "datum.value % 5 === 0 ? datum.label : ''", "labelOverlap": false, "labelFlush": false, "tickSize": {"condition": {"test": "datum.value % 5 === 0", "value": 10}, "value": 5}, "labelFontSize": 23, "labelPadding": 1, "title": "Binding Energy (eV)", "titleFontSize": 24, "titlePadding": 10}},
  "y": {"field": "d", "type": "quantitative", "scale": {"domain": [-0.5, 12.6], "nice": false, "zero": false},
        "axis": {"orient": "left", "values": [0,1,2,3,4,5,6,7,8,9,10,11,12], "labels": false, "tickSize": {"condition": {"test": "datum.value % 5 === 0", "value": 10}, "value": 6}, "title": "Normalized Count Rate (Arbitrary Units)", "titleFontSize": 25, "titlePadding": 3}}
 }},
{"data": {"name": "pts"},
 "mark": {"type": "point", "opacity": 0},
 "encoding": {
  "x": {"field": "e", "type": "quantitative", "scale": {"domain": [223.05, 241.19], "reverse": true, "nice": false, "zero": false},
        "axis": {"orient": "top", "values": [224,225,226,227,228,229,230,231,232,233,234,235,236,237,238,239,240,241], "labels": false, "title": null, "tickSize": {"condition": {"test": "datum.value % 5 === 0", "value": -11}, "value": -6}}},
  "y": {"field": "d", "type": "quantitative", "scale": {"domain": [-0.5, 12.6], "nice": false, "zero": false},
        "axis": {"orient": "right", "values": [0,1,2,3,4,5,6,7,8,9,10,11,12], "labels": false, "title": null, "tickSize": {"condition": {"test": "datum.value % 5 === 0", "value": -11}, "value": -5}}}
 }}
],
"resolve": {"axis": {"x": "independent", "y": "independent"}}
}
